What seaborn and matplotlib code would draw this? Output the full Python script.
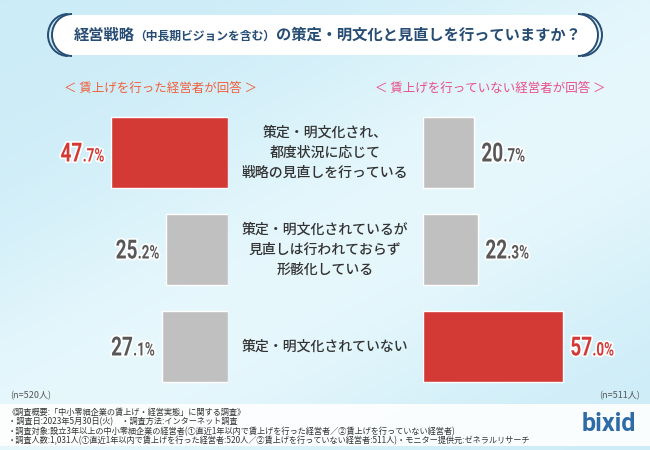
"""
経営戦略の策定・明文化と見直し：賃上げ実施有無別の比較チャート
"""
import matplotlib

matplotlib.use("Agg")
import matplotlib.pyplot as plt
import numpy as np
import pandas as pd
import seaborn as sns
from matplotlib import patheffects, transforms
from matplotlib.patches import Arc, FancyBboxPatch, Rectangle
from matplotlib.transforms import Affine2D

# ---- data ----
categories = [
    "策定・明文化され、\n都度状況に応じて\n戦略の見直しを行っている",
    "策定・明文化されているが\n見直しは行われておらず\n形骸化している",
    "策定・明文化されていない",
]
raised = [47.7, 25.2, 27.1]          # 賃上げを行った経営者
not_raised = [20.7, 22.3, 57.0]      # 賃上げを行っていない経営者
raised_colors = ["#d33a35", "#c0c0c0", "#c0c0c0"]
not_raised_colors = ["#c0c0c0", "#c0c0c0", "#d33a35"]

title_parts = ["経営戦略", "（中長期ビジョンを含む）", "の策定・明文化と見直しを行っていますか？"]
left_header = "＜ 賃上げを行った経営者が回答 ＞"
right_header = "＜ 賃上げを行っていない経営者が回答 ＞"
left_n = "(n=520人)"
right_n = "(n=511人)"
notes = [
    "《調査概要:「中小零細企業の賃上げ・経営実態」に関する調査》",
    "・調査日:2023年5月30日(火)　・調査方法:インターネット調査",
    "・調査対象:設立3年以上の中小零細企業の経営者(①直近1年以内で賃上げを行った経営者／②賃上げを行っていない経営者)",
    "・調査人数:1,031人(①直近1年以内で賃上げを行った経営者:520人／②賃上げを行っていない経営者:511人)・モニター提供元:ゼネラルリサーチ",
]

RED = "#d33a35"
GRAY_TEXT = "#585858"
NAVY = "#274d74"
W, H = 650, 450

sns.set_theme(style="white")
plt.rcParams["font.family"] = ["Noto Sans CJK JP", "DejaVu Sans"]
NUM_FONT = ["Roboto", "DejaVu Sans"]
SX = 0.72  # 数字を横方向に詰める比率
INT_SIZE, DEC_SIZE = 19, 13.5


class Condensed(patheffects.AbstractPathEffect):
    """テキストのパスを左端または右端を基準に横方向へ縮める（縁取り付き）。"""

    def __init__(self, sx, anchor, inner):
        super().__init__()
        self.sx = sx
        self.anchor = anchor
        self.inner = inner

    def draw_path(self, renderer, gc, tpath, affine, rgbFace=None):
        if self.anchor == "right":
            x0 = tpath.get_extents(affine).x1
        else:
            x0 = affine.transform((0, 0))[0]
        aff = affine + Affine2D().translate(-x0, 0).scale(self.sx, 1).translate(x0, 0)
        for pe in self.inner:
            pe.draw_path(renderer, gc, tpath, aff, rgbFace)


def make_effects(anchor):
    return [Condensed(SX, anchor, [patheffects.Stroke(linewidth=2.5, foreground="white"),
                                   patheffects.Normal()])]


fig = plt.figure(figsize=(W / 100, H / 100), dpi=100)
renderer = fig.canvas.get_renderer()

# ---- background (pixel coordinates) ----
bg = fig.add_axes([0, 0, 1, 1], zorder=-5)
bg.set_xlim(0, W)
bg.set_ylim(H, 0)
bg.axis("off")
yy, xx = np.mgrid[0:H, 0:W]
d = (xx * 0.55 + yy) / (W * 0.55 + H)
band = np.exp(-((d - 0.55) ** 2) / (2 * 0.18 ** 2))
c0 = np.array([0.80, 0.925, 0.970])
c1 = np.array([0.905, 0.972, 0.990])
img = c0 + (c1 - c0) * band[..., None]
bg.imshow(img, extent=(0, W, H, 0), aspect="auto", zorder=0)

# footer band
bg.add_patch(Rectangle((0, 404), W, 42, facecolor="white", alpha=0.9, edgecolor="none", zorder=1))

# title pill
bg.add_patch(FancyBboxPatch((52, 15), 546, 40, boxstyle="round,pad=0,rounding_size=20",
                            facecolor="white", edgecolor="none", zorder=1))
for dx in (0, -4):
    bg.add_patch(Arc((72 + dx, 35), 40, 42, theta1=90, theta2=270, color=NAVY, lw=1.4, zorder=2))
    bg.add_patch(Arc((578 - dx, 35), 40, 42, theta1=-90, theta2=90, color=NAVY, lw=1.4, zorder=2))

# title text composed of three runs
title_sizes = [11, 8.5, 11]
widths = []
for part, size in zip(title_parts, title_sizes):
    t = fig.text(0, 0, part, fontsize=size, fontweight="bold")
    widths.append(t.get_window_extent(renderer).width)
    t.remove()
x = 327 - sum(widths) / 2
for part, size, w in zip(title_parts, title_sizes, widths):
    fig.text(x / W, 1 - 40 / H, part, fontsize=size, fontweight="bold", color=NAVY,
             ha="left", va="baseline")
    x += w

fig.text(160 / W, 1 - 88 / H, left_header, fontsize=9, color="#f0603c", ha="center", va="center")
fig.text(490 / W, 1 - 88 / H, right_header, fontsize=9, color="#e8508a", ha="center", va="center")

# ---- bars ----
ax_top, ax_bot = 104, 395
ax_l = fig.add_axes([81 / W, 1 - ax_bot / H, 147 / W, (ax_bot - ax_top) / H])
ax_r = fig.add_axes([423 / W, 1 - ax_bot / H, 147 / W, (ax_bot - ax_top) / H])

left_df = pd.DataFrame({"category": categories, "value": raised})
right_df = pd.DataFrame({"category": categories, "value": not_raised})

sns.barplot(data=left_df, x="value", y="category", hue="category",
            palette=dict(zip(categories, raised_colors)), legend=False,
            width=0.735, orient="h", ax=ax_l, saturation=1)
sns.barplot(data=right_df, x="value", y="category", hue="category",
            palette=dict(zip(categories, not_raised_colors)), legend=False,
            width=0.735, orient="h", ax=ax_r, saturation=1)

ax_l.set_xlim(60, 0)
ax_r.set_xlim(0, 60)
for ax in (ax_l, ax_r):
    ax.set_ylim(2.5, -0.5)
    ax.set_facecolor("none")
    ax.set_xlabel("")
    ax.set_ylabel("")
    ax.set_xticks([])
    ax.set_yticks([])
    sns.despine(ax=ax, left=True, bottom=True)

# category labels in the centre column
mid = transforms.blended_transform_factory(fig.transFigure, ax_l.transData)
for i, cat in enumerate(categories):
    fig.text(0.5, i, cat, transform=mid, ha="center", va="center", fontsize=10,
             color="#333333", linespacing=1.55, fontweight="medium")


# value labels: big integer part + smaller decimal part (condensed)
def text_width(s, size):
    t = fig.text(0, 0, s, fontsize=size, family=NUM_FONT, fontweight="bold")
    w = t.get_window_extent(renderer).width
    t.remove()
    return w * SX


def value_label(ax, i, value, color, side):
    whole, dec = f"{value:.1f}".split(".")
    dec = "." + dec + "%"
    kw = dict(xycoords="data", textcoords="offset pixels", va="baseline",
              color=color, family=NUM_FONT, fontweight="bold")
    wi, wd = text_width(whole, INT_SIZE), text_width(dec, DEC_SIZE)
    # junction between the integer part and the decimal part
    xj = -7 - wd if side == "left" else 8 + wi
    ax.annotate(whole, xy=(value, i), xytext=(xj, -9), ha="right", fontsize=INT_SIZE,
                path_effects=make_effects("right"), **kw)
    ax.annotate(dec, xy=(value, i), xytext=(xj, -9), ha="left", fontsize=DEC_SIZE,
                path_effects=make_effects("left"), **kw)


for i, v in enumerate(raised):
    value_label(ax_l, i, v, RED if raised_colors[i] == RED else GRAY_TEXT, "left")
for i, v in enumerate(not_raised):
    value_label(ax_r, i, v, RED if not_raised_colors[i] == RED else GRAY_TEXT, "right")

# ---- footer ----
fig.text(10 / W, 1 - 396 / H, left_n, fontsize=6.5, color="#555555", ha="left", va="center")
fig.text(640 / W, 1 - 396 / H, right_n, fontsize=6.5, color="#555555", ha="right", va="center")
for k, line in enumerate(notes):
    fig.text(8 / W, 1 - (412 + k * 9.6) / H, line, fontsize=5.9, color="#333333",
             ha="left", va="center")
fig.text(609 / W, 1 - 424 / H, "bixid", fontsize=18, fontweight="bold", color="#2f6ca6",
         ha="center", va="center", family=["Roboto", "DejaVu Sans"])

fig.savefig("out.png", dpi=100)
